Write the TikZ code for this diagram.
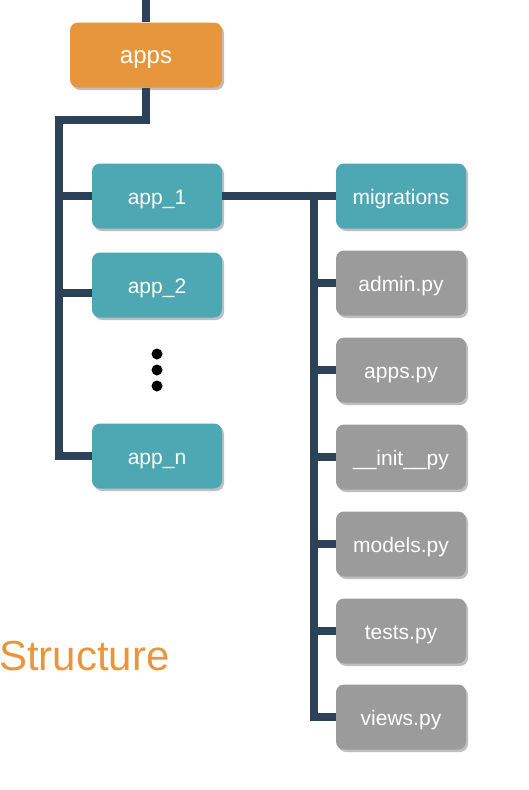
\documentclass[tikz,border=0pt]{standalone}
\usepackage{fontspec}
\setmainfont{Liberation Sans}
\usetikzlibrary{shadows}
\definecolor{orangebox}{HTML}{E8963C}
\definecolor{tealbox}{HTML}{4DA8B3}
\definecolor{graybox}{HTML}{9B9B9B}
\definecolor{linecol}{HTML}{2C4259}
\tikzset{
  x=1pt,y=-1pt,
  box/.style={rounded corners=8pt, minimum width=130pt, minimum height=65pt, inner sep=0pt,
    text=white, font=\fontsize{21}{21}\selectfont, text height=16pt, text depth=0pt,
    drop shadow={shadow xshift=2pt, shadow yshift=-2.5pt, fill=black, opacity=0.25}},
  appbox/.style={box, fill=tealbox},
  filebox/.style={box, fill=graybox},
  rootbox/.style={box, fill=orangebox, minimum width=152pt, font=\fontsize{24}{24}\selectfont},
  conn/.style={draw=linecol, line width=7.5pt, miter limit=10}
}
\begin{document}
\begin{tikzpicture}
\useasboundingbox (0,0) rectangle (528,790);
% nodes
\node[rootbox] (apps) at (146,55) {apps};
\node[appbox] (app1) at (157,196) {app\_1};
\node[appbox] (app2) at (157,285) {app\_2};
\node[appbox] (appn) at (157,456) {app\_n};
\node[appbox] (mig) at (401,196) {migrations};
\node[filebox] (admin) at (401,283) {admin.py};
\node[filebox] (appspy) at (401,370) {apps.py};
\node[filebox] (init) at (401,457) {\_\_init\_\_py};
\node[filebox] (models) at (401,544) {models.py};
\node[filebox] (tests) at (401,631) {tests.py};
\node[filebox] (views) at (401,717) {views.py};
\node[anchor=base west, inner sep=0pt, text=orangebox, font=\fontsize{42}{42}\selectfont] (title) at (-1,670) {Structure};
% coordinates
\coordinate (top) at (146,0);
\coordinate (j2) at (59,120);
\coordinate (v) at (314,196);
\coordinate (b2) at ([yshift=-8pt]app2.west);
% connectors
\draw[conn] (top) -- (apps.north);
\draw[conn] (apps.south) |- (j2) |- (appn.west);
\draw[conn] (app1.west -| j2) -- (app1.west);
\draw[conn] (b2 -| j2) -- (b2);
\draw[conn] (app1.east) -- (mig.west);
\draw[conn] (v) |- (views.west);
\draw[conn] (admin.west -| v) -- (admin.west);
\draw[conn] (appspy.west -| v) -- (appspy.west);
\draw[conn] (init.west -| v) -- (init.west);
\draw[conn] (models.west -| v) -- (models.west);
\draw[conn] (tests.west -| v) -- (tests.west);
% dots
\fill (157,354) circle (5.5);
\fill (157,370) circle (5.5);
\fill (157,386) circle (5.5);
\end{tikzpicture}
\end{document}
